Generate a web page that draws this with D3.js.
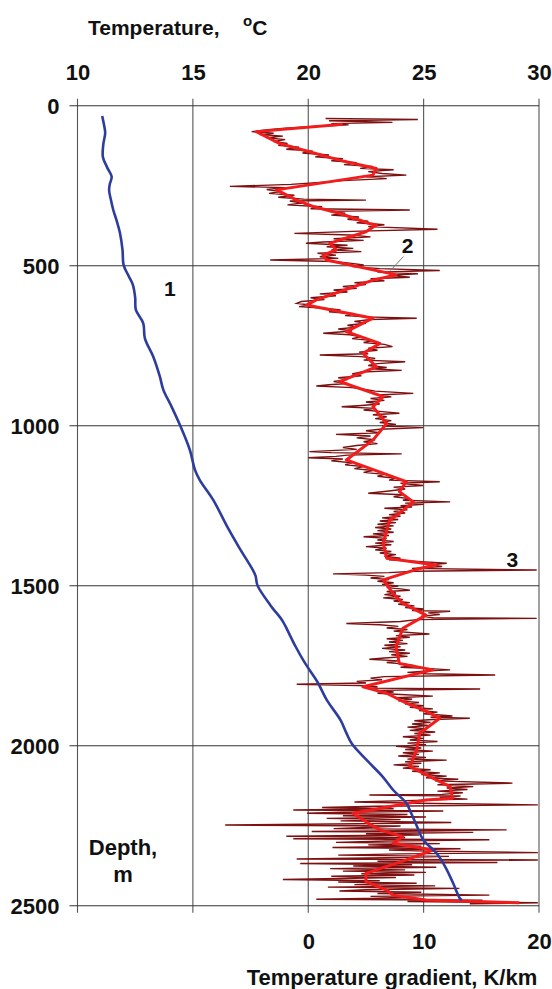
<!DOCTYPE html>
<html>
<head>
<meta charset="utf-8">
<script src="https://cdn.jsdelivr.net/npm/d3@7"></script>
<style>
  body { margin: 0; background: #fff; }
  text { font-family: "Liberation Sans", Arial, sans-serif; font-weight: bold; fill: #111; }
</style>
</head>
<body>
<script>
//chart values
var depthTicks = [0, 500, 1000, 1500, 2000, 2500];
var tempTicks = [10, 15, 20, 25, 30];
var gradTicks = [-20, -10, 0, 10, 20];
var gradLabels = ["", "", "0", "10", "20"];

//curve 1: temperature, [depth m, degC]
var tempCurve = [[32,11.07],[60,11.15],[85,11.2],[120,11.12],[160,11.1],[195,11.3],[222,11.48],[245,11.4],
  [264,11.37],[295,11.45],[326,11.55],[360,11.7],[398,11.84],[450,11.95],[498,12.0],[530,12.2],
  [560,12.4],[600,12.5],[638,12.53],[680,12.85],[727,12.92],[784,13.28],[847,13.57],
  [888,13.72],[941,14.08],[998,14.44],[1076,14.87],[1138,15.09],[1170,15.3],[1232,15.88],[1321,16.53],
  [1380,17.0],[1451,17.6],[1470,17.72],[1499,17.8],[1560,18.35],[1607,18.86],[1625,19.0],[1690,19.45],
  [1742,19.86],[1801,20.4],[1857,20.8],[1920,21.4],[1960,21.65],[1995,21.9],[2050,22.6],[2098,23.24],
  [2140,23.7],[2180,24.26],[2201,24.4],[2250,24.7],[2294,24.98],[2336,25.56],[2380,25.95],[2430,26.28],
  [2477,26.57],[2482,26.66]];

//curve 2: smoothed gradient, [depth m, K/km]
var gradSmooth = [[58,3.0],[81,-4.5],[118,-2.5],[144,0.1],[170,2.7],[196,5.9],[217,5.6],[263,-2.75],
  [295,-1.0],[315,0.4],[336,2.7],[368,5.3],[373,5.9],[394,5.0],[420,2.7],[430,1.86],[451,2.44],
  [467,1.28],[482,1.58],[524,7.06],[529,7.6],[545,5.6],[607,0.7],[623,-0.15],[664,5.6],[706,3.3],
  [743,6.2],[774,4.75],[816,5.9],[862,2.7],[909,6.5],[941,5.6],[993,6.8],[1045,5.6],[1107,3.3],
  [1175,8.5],[1206,7.9],[1238,9.1],[1274,7.9],[1295,7.06],[1367,6.5],[1414,6.8],[1435,11.1],
  [1446,9.66],[1482,6.5],[1524,7.35],[1555,8.2],[1592,10.2],[1633,8.2],[1691,7.6],[1743,7.9],
  [1763,10.8],[1816,4.75],[1836,6.8],[1867,8.5],[1888,9.95],[1914,11.4],[1961,9.66],[2013,9.4],
  [2065,8.8],[2107,11.1],[2128,12.3],[2164,12.5],[2170,10.2],[2211,3.9],[2238,5.0],[2263,6.2],
  [2284,8.2],[2305,7.35],[2326,10.8],[2357,8.5],[2399,5.0],[2425,5.0],[2451,6.8],[2467,7.35],
  [2482,10.2],[2491,18.3]];

//curve 3: measured gradient, [depth m, K/km]
var gradRaw = [[40,1.5],[43,9.5],[47,1.8],[52,7.3],[56,2.0],[60,3.5],[65,0.5],[70,-2.0],[75,-3.5],
  [81,-4.9],[86,-3.0],[90,-4.2],[95,-2.2],[100,-3.6],[106,-2.0],[112,-3.0],[118,-1.8],[124,-2.6],
  [130,-0.8],[136,-1.9],[142,0.4],[148,-0.5],[154,1.8],[160,0.6],[166,3.0],[172,2.0],[178,4.2],
  [184,3.1],[190,5.6],[196,4.5],[200,7.4],[206,5.2],[212,6.4],[217,8.5],[222,5.0],[228,6.8],
  [234,3.0],[240,1.0],[246,-1.5],[252,-6.8],[256,-2.0],[262,-3.6],[268,-2.4],[274,-3.4],[280,-1.2],
  [286,-2.6],[292,-0.4],[295,5.0],[298,-1.6],[304,-0.5],[310,-1.8],[316,1.2],[322,0.2],[326,8.8],
  [330,1.8],[336,3.2],[342,2.0],[348,4.4],[355,3.4],[361,5.2],[366,4.2],[372,6.6],[378,5.2],
  [386,11.2],[392,4.5],[399,-1.2],[404,3.6],[410,5.4],[416,2.2],[421,4.8],[426,1.3],[430,-0.2],
  [436,3.4],[441,1.6],[446,3.9],[451,2.0],[456,4.6],[461,0.8],[467,2.4],[472,1.0],[477,2.6],
  [482,-3.3],[487,2.2],[492,3.6],[498,4.8],[503,3.8],[509,6.2],[515,11.4],[520,6.0],[525,9.5],
  [530,7.0],[536,8.8],[541,5.4],[547,6.6],[553,4.0],[559,5.0],[565,3.0],[571,4.2],[576,2.2],
  [582,3.4],[588,1.0],[594,2.4],[600,0.2],[606,1.4],[612,-0.6],[618,-1.0],[623,0.2],[628,-0.8],
  [633,1.4],[638,2.8],[644,1.8],[650,4.0],[656,3.2],[660,5.0],[664,9.4],[668,5.4],[674,4.0],
  [680,5.0],[686,3.4],[692,4.2],[698,2.6],[704,3.8],[711,1.3],[716,3.6],[722,4.6],[728,3.8],
  [734,5.6],[740,4.8],[746,6.6],[753,7.3],[758,5.2],[764,6.0],[770,4.4],[775,5.2],[779,1.0],
  [784,4.6],[790,5.8],[795,4.8],[800,8.4],[806,6.0],[812,5.2],[818,6.8],[822,5.4],[827,8.1],
  [832,4.6],[838,3.8],[844,4.6],[850,2.6],[856,3.4],[862,2.2],[868,3.4],[872,1.8],[876,0.7],
  [881,3.8],[886,4.8],[892,5.8],[899,9.1],[904,6.0],[910,7.2],[915,5.4],[921,6.6],[926,5.0],
  [932,6.2],[937,4.6],[941,2.9],[946,5.8],[951,4.8],[956,6.4],[961,7.9],[966,5.6],[972,6.8],
  [978,5.8],[984,7.2],[990,6.2],[996,7.6],[1001,6.4],[1006,9.95],[1011,6.2],[1016,5.0],[1022,6.2],
  [1027,2.4],[1032,5.4],[1038,4.2],[1044,5.8],[1050,4.8],[1056,6.0],[1062,4.2],[1068,3.0],
  [1074,4.2],[1081,0.1],[1084,2.0],[1088,8.1],[1092,3.4],[1096,2.4],[1100,0.0],[1104,3.0],
  [1110,2.0],[1116,3.8],[1122,3.2],[1128,4.8],[1134,4.0],[1140,5.6],[1146,4.8],[1152,6.6],
  [1158,6.0],[1164,7.6],[1170,7.0],[1175,11.4],[1180,8.0],[1187,9.95],[1192,7.4],[1198,8.4],
  [1204,7.0],[1211,5.2],[1216,8.2],[1222,7.4],[1228,8.8],[1233,8.2],[1238,12.3],[1242,8.4],
  [1246,10.0],[1250,8.0],[1254,9.0],[1258,6.6],[1263,8.6],[1268,7.4],[1273,8.4],[1278,7.0],
  [1283,8.0],[1288,6.4],[1293,7.8],[1298,6.2],[1303,7.6],[1308,6.0],[1313,7.4],[1318,5.8],
  [1323,7.2],[1328,6.0],[1333,7.4],[1338,5.6],[1343,7.0],[1347,4.8],[1352,6.8],[1357,6.0],
  [1362,7.4],[1367,5.8],[1372,7.2],[1378,5.0],[1383,6.8],[1388,5.8],[1393,7.2],[1398,6.2],
  [1403,7.6],[1408,6.6],[1414,8.0],[1419,7.0],[1424,9.4],[1430,12.0],[1435,10.6],[1440,11.6],
  [1446,9.0],[1451,19.8],[1455,9.2],[1459,7.0],[1463,2.15],[1467,5.0],[1471,6.6],[1476,5.4],
  [1481,7.0],[1486,6.0],[1491,7.4],[1496,6.4],[1501,7.8],[1506,6.8],[1510,8.0],[1514,8.8],
  [1518,6.8],[1523,7.6],[1528,6.6],[1533,8.0],[1538,6.5],[1543,8.2],[1548,7.4],[1553,8.8],
  [1558,7.8],[1563,9.2],[1568,8.4],[1573,10.0],[1578,9.0],[1580,12.3],[1585,10.4],[1590,11.4],
  [1595,9.8],[1600,10.8],[1602,19.8],[1606,9.4],[1612,8.0],[1618,3.3],[1622,6.2],[1627,7.8],
  [1632,6.8],[1637,8.6],[1642,7.4],[1647,9.0],[1651,10.5],[1656,7.6],[1661,8.8],[1666,6.8],
  [1671,8.2],[1676,7.0],[1681,8.6],[1686,6.6],[1691,8.0],[1696,6.4],[1701,8.4],[1706,7.0],
  [1711,8.8],[1716,7.2],[1721,8.6],[1726,6.6],[1730,5.3],[1735,7.8],[1740,6.8],[1745,8.4],
  [1750,9.2],[1755,8.0],[1759,10.6],[1763,12.3],[1767,10.0],[1771,8.6],[1775,10.2],[1779,16.2],
  [1784,6.6],[1789,5.4],[1794,6.4],[1799,4.2],[1804,5.0],[1808,-1.0],[1812,4.4],[1816,6.0],
  [1820,5.2],[1823,14.9],[1827,6.2],[1832,7.4],[1836,6.0],[1840,8.0],[1845,10.8],[1850,7.6],
  [1855,9.0],[1860,7.8],[1865,9.6],[1870,8.4],[1875,10.0],[1880,8.8],[1885,10.8],[1890,9.6],
  [1895,11.2],[1900,10.0],[1907,12.5],[1911,10.6],[1914,14.0],[1918,10.8],[1922,9.2],[1927,10.6],
  [1932,9.0],[1937,10.4],[1942,8.6],[1947,10.2],[1952,8.8],[1957,11.0],[1962,9.2],[1967,10.6],
  [1972,8.2],[1977,10.0],[1982,8.8],[1987,11.2],[1992,8.6],[1997,10.2],[2002,7.6],[2007,9.8],
  [2012,8.4],[2017,10.8],[2022,8.2],[2027,9.6],[2032,7.8],[2037,10.2],[2042,8.6],[2045,12.0],
  [2050,8.4],[2055,9.8],[2060,7.4],[2065,9.6],[2070,8.2],[2075,10.6],[2080,9.0],[2085,11.4],
  [2090,9.8],[2095,12.0],[2100,10.2],[2105,13.0],[2110,11.0],[2117,17.7],[2122,11.2],[2128,14.3],
  [2132,12.0],[2137,13.8],[2142,11.2],[2147,13.4],[2152,11.6],[2154,5.3],[2157,13.2],[2162,11.4],
  [2167,13.8],[2170,10.2],[2176,4.0],[2180,9.6],[2185,19.9],[2189,6.0],[2193,1.2],[2197,7.4],
  [2201,-1.3],[2204,11.7],[2208,3.0],[2211,-0.1],[2215,8.6],[2219,3.0],[2223,10.2],[2227,1.6],
  [2231,8.0],[2235,2.8],[2240,12.4],[2244,4.4],[2248,-7.2],[2251,8.0],[2255,5.4],[2259,2.2],
  [2263,17.2],[2268,0.3],[2271,14.3],[2275,5.0],[2279,9.6],[2283,-1.9],[2287,8.4],[2291,-1.3],
  [2294,15.7],[2298,6.8],[2302,2.4],[2306,11.4],[2310,5.2],[2314,9.8],[2318,2.1],[2322,13.2],
  [2326,7.0],[2330,11.0],[2334,19.9],[2338,8.0],[2342,2.6],[2346,12.2],[2350,6.8],[2354,-1.0],
  [2357,19.9],[2361,6.0],[2365,16.4],[2368,-0.7],[2372,9.0],[2376,3.9],[2380,11.1],[2384,1.9],
  [2388,8.4],[2392,3.0],[2396,10.2],[2400,4.6],[2404,9.2],[2408,2.0],[2412,7.6],[2418,-2.2],
  [2422,6.2],[2426,2.6],[2430,9.4],[2434,4.0],[2438,11.0],[2442,1.7],[2446,13.1],[2450,5.0],
  [2454,2.7],[2458,9.8],[2462,6.0],[2467,15.7],[2471,5.4],[2475,9.0],[2480,0.7],[2483,15.1],
  [2487,8.6],[2491,19.9],[2494,14.0]];

//curve labels
var curveLabels = [{text: "1", depth: 596, temp: 14.0},
                   {text: "2", depth: 461, temp: 24.3},
                   {text: "3", depth: 1440, temp: 28.85}];

(function(){
    var width = 552, height = 989;
    var left = 77.5, right = 539, top = 105.7, bottom = 905.7;

    var svg = d3.select("body").append("svg")
        .attr("width", width)
        .attr("height", height);

    //scales - temperature on top, gradient on bottom, depth down
    var x = d3.scaleLinear().domain([10, 30]).range([left, right]);
    var xg = d3.scaleLinear().domain([-20, 20]).range([left, right]);
    var y = d3.scaleLinear().domain([0, 2500]).range([top, bottom]);

    //grid lines, a bit longer than the frame like the ticks
    svg.selectAll(".vgrid")
        .data(tempTicks)
        .enter().append("line")
        .attr("x1", function(d){ return x(d); })
        .attr("x2", function(d){ return x(d); })
        .attr("y1", top - 7)
        .attr("y2", bottom + 7)
        .attr("stroke", "#555")
        .attr("stroke-width", 1.1);

    svg.selectAll(".hgrid")
        .data(depthTicks)
        .enter().append("line")
        .attr("x1", left - 8)
        .attr("x2", right)
        .attr("y1", function(d){ return y(d); })
        .attr("y2", function(d){ return y(d); })
        .attr("stroke", "#333")
        .attr("stroke-width", 1.1);

    //axes used only for the labels
    var topAxis = svg.append("g")
        .attr("transform", "translate(0," + top + ")")
        .call(d3.axisTop(x).tickValues(tempTicks).tickSize(0).tickPadding(26));
    var leftAxis = svg.append("g")
        .attr("transform", "translate(" + left + ",0)")
        .call(d3.axisLeft(y).tickValues(depthTicks).tickSize(0).tickPadding(18)
            .tickFormat(d3.format("d")));
    var bottomAxis = svg.append("g")
        .attr("transform", "translate(0," + bottom + ")")
        .call(d3.axisBottom(xg).tickValues(gradTicks).tickSize(0).tickPadding(28)
            .tickFormat(function(d, i){ return gradLabels[i]; }));

    [topAxis, leftAxis, bottomAxis].forEach(function(a){
        a.select(".domain").remove();
        a.selectAll("text")
            .attr("fill", "#111")
            .style("font-family", "'Liberation Sans', Arial, sans-serif")
            .style("font-weight", "bold")
            .style("font-size", "22px");
    });
    leftAxis.selectAll("text").attr("dy", "0.36em");

    //curves
    var line = d3.line()
        .x(function(d){ return xg(d[1]); })
        .y(function(d){ return y(d[0]); });
    var tline = d3.line()
        .curve(d3.curveCatmullRom)
        .x(function(d){ return x(d[1]); })
        .y(function(d){ return y(d[0]); });

    svg.append("path")
        .datum(gradRaw)
        .attr("fill", "none")
        .attr("stroke", "#7d1010")
        .attr("stroke-width", 1.4)
        .attr("stroke-linejoin", "miter")
        .attr("d", line);

    svg.append("path")
        .datum(gradSmooth)
        .attr("fill", "none")
        .attr("stroke", "#f21c1c")
        .attr("stroke-width", 3)
        .attr("stroke-linejoin", "round")
        .attr("d", line);

    svg.append("path")
        .datum(tempCurve)
        .attr("fill", "none")
        .attr("stroke", "#2c3d9e")
        .attr("stroke-width", 2.6)
        .attr("stroke-linejoin", "round")
        .attr("d", tline);

    //leader for label 2
    svg.append("line")
        .attr("x1", x(24.3) - 4).attr("y1", y(465) + 2)
        .attr("x2", x(24.3) - 17).attr("y2", y(515))
        .attr("stroke", "#777")
        .attr("stroke-width", 1);

    svg.selectAll(".clabel")
        .data(curveLabels)
        .enter().append("text")
        .attr("x", function(d){ return x(d.temp); })
        .attr("y", function(d){ return y(d.depth); })
        .attr("text-anchor", "middle")
        .style("font-size", "21px")
        .text(function(d){ return d.text; });

    //axis titles
    var tt = svg.append("text")
        .attr("x", 88)
        .attr("y", 35)
        .style("font-size", "21px");
    tt.append("tspan").text("Temperature,");
    tt.append("tspan").attr("x", 243).attr("dy", -9).style("font-size", "15px").text("o");
    tt.append("tspan").attr("dy", 9).text("C");

    svg.append("text")
        .attr("x", 392)
        .attr("y", 985)
        .attr("text-anchor", "middle")
        .style("font-size", "22px")
        .text("Temperature gradient, K/km");

    svg.append("text")
        .attr("x", 123)
        .attr("y", 855)
        .attr("text-anchor", "middle")
        .style("font-size", "22px")
        .text("Depth,");
    svg.append("text")
        .attr("x", 123)
        .attr("y", 882)
        .attr("text-anchor", "middle")
        .style("font-size", "22px")
        .text("m");
})();
</script>
</body>
</html>
